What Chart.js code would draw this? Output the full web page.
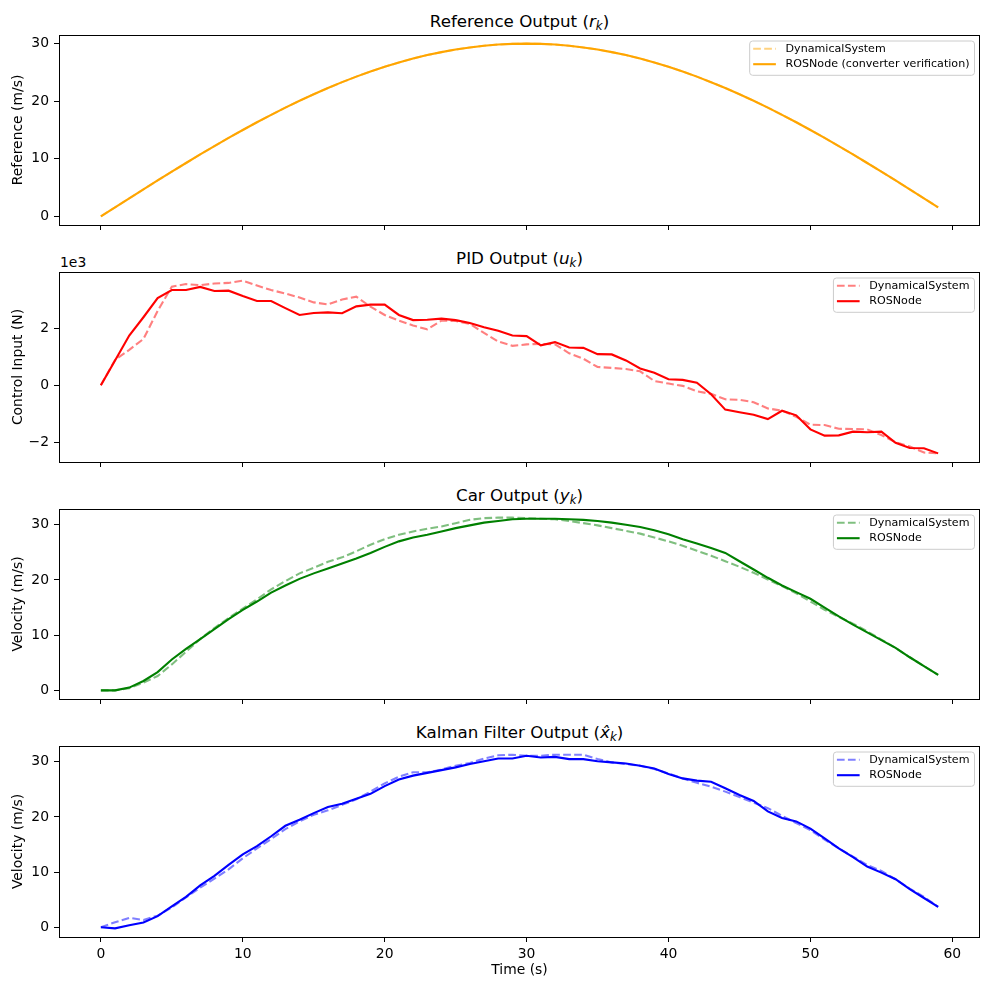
<!DOCTYPE html>
<html>
<head>
<meta charset="utf-8">
<title>Converter verification</title>
<script src="https://cdn.jsdelivr.net/npm/chart.js@4.4.0/dist/chart.umd.min.js"></script>
<style>
  body { margin: 0; background: #fff; width: 989px; height: 990px; position: relative; overflow: hidden; font-family: "DejaVu Sans", sans-serif; color: #000; }
  .panel { position: absolute; left: 0; width: 989px; }
  .title { position: absolute; left: 59px; width: 921px; text-align: center; font-size: 16.7px; line-height: 20px; white-space: nowrap; }
  .title sub { font-size: 70%; line-height: 0; vertical-align: -0.25em; }
  .offset { position: absolute; left: 60px; font-size: 13.9px; line-height: 16px; }
</style>
</head>
<body>

<div class="title" style="top:11px">Reference Output (<i>r<sub>k</sub></i>)</div>
<div class="panel" style="top:31px;height:204px"><canvas id="ref-chart"></canvas></div>

<div class="title" style="top:248px">PID Output (<i>u<sub>k</sub></i>)</div>
<div class="offset" style="top:254px">1e3</div>
<div class="panel" style="top:268px;height:204px"><canvas id="pid-chart"></canvas></div>

<div class="title" style="top:485px">Car Output (<i>y<sub>k</sub></i>)</div>
<div class="panel" style="top:505px;height:204px"><canvas id="car-chart"></canvas></div>

<div class="title" style="top:722px">Kalman Filter Output (<i>x&#770;<sub>k</sub></i>)</div>
<div class="panel" style="top:742px;height:245px"><canvas id="kf-chart"></canvas></div>

<script>
// time axis (s)
const timeSteps = [0, 1, 2, 3, 4, 5, 6, 7, 8, 9, 10, 11, 12, 13, 14, 15, 16, 17, 18, 19,
  20, 21, 22, 23, 24, 25, 26, 27, 28, 29, 30, 31, 32, 33, 34, 35, 36, 37, 38, 39,
  40, 41, 42, 43, 44, 45, 46, 47, 48, 49, 50, 51, 52, 53, 54, 55, 56, 57, 58, 59];

// reference r_k (m/s) - both runs give the same curve
const referenceOutput = [0, 1.57, 3.14, 4.69, 6.24, 7.76, 9.27, 10.75, 12.20, 13.62,
  15.00, 16.34, 17.63, 18.88, 20.07, 21.21, 22.29, 23.31, 24.27, 25.16,
  25.98, 26.73, 27.41, 28.01, 28.53, 28.98, 29.34, 29.63, 29.84, 29.96,
  30.00, 29.96, 29.84, 29.63, 29.34, 28.98, 28.53, 28.01, 27.41, 26.73,
  25.98, 25.16, 24.27, 23.31, 22.29, 21.21, 20.07, 18.88, 17.63, 16.34,
  15.00, 13.62, 12.20, 10.75, 9.27, 7.76, 6.24, 4.69, 3.14, 1.57];

// PID u_k (N)
const pidDynamical = [0, 890, 1240, 1620, 2600, 3450, 3540, 3500, 3560, 3580,
  3660, 3490, 3330, 3210, 3070, 2900, 2830, 3000, 3100, 2750,
  2460, 2260, 2090, 1960, 2260, 2250, 2150, 1830, 1530, 1380,
  1430, 1450, 1430, 1120, 930, 640, 610, 570, 490, 150,
  60, -20, -210, -300, -490, -510, -590, -810, -890, -1100,
  -1380, -1390, -1520, -1530, -1540, -1740, -1990, -2140, -2350, -2380];
const pidRos = [0, 870, 1740, 2380, 3050, 3330, 3330, 3440, 3300, 3310,
  3120, 2950, 2950, 2700, 2460, 2530, 2550, 2520, 2760, 2820,
  2820, 2460, 2280, 2290, 2330, 2280, 2180, 2030, 1910, 1740,
  1720, 1400, 1510, 1320, 1310, 1090, 1080, 870, 590, 440,
  210, 190, 90, -310, -850, -940, -1030, -1180, -890, -1050,
  -1540, -1760, -1750, -1620, -1640, -1620, -2010, -2190, -2200, -2380];

// car velocity y_k (m/s)
const carDynamical = [0, 0, 0.4, 1.4, 2.6, 4.7, 7.0, 9.3, 11.3, 13.1,
  14.8, 16.5, 18.3, 19.8, 21.2, 22.2, 23.3, 24.1, 25.2, 26.4,
  27.4, 28.2, 28.8, 29.3, 29.7, 30.3, 30.9, 31.2, 31.3, 31.3,
  31.2, 31.1, 31.0, 30.7, 30.3, 29.9, 29.4, 28.9, 28.4, 27.7,
  27.0, 26.2, 25.3, 24.4, 23.4, 22.4, 21.3, 20.1, 18.9, 17.6,
  16.1, 14.6, 13.3, 12.1, 10.7, 9.2, 7.7, 6.0, 4.4, 2.8];
const carRos = [0, 0, 0.5, 1.7, 3.3, 5.6, 7.5, 9.3, 11.1, 12.9,
  14.6, 16.1, 17.7, 19.0, 20.2, 21.2, 22.1, 23.0, 23.9, 24.9,
  26.0, 27.0, 27.7, 28.2, 28.8, 29.4, 29.9, 30.4, 30.7, 31.0,
  31.1, 31.1, 31.1, 31.0, 30.9, 30.7, 30.4, 30.0, 29.6, 29.0,
  28.3, 27.4, 26.6, 25.8, 24.9, 23.4, 21.9, 20.4, 19.0, 17.8,
  16.6, 15.0, 13.4, 11.9, 10.5, 9.1, 7.7, 6.0, 4.4, 2.8];

// kalman estimate x_hat_k (m/s)
const kfDynamical = [0, 0.9, 1.7, 1.3, 2.1, 3.6, 5.4, 7.2, 8.8, 10.5,
  12.5, 14.3, 16.0, 17.8, 19.2, 20.4, 21.2, 22.2, 23.2, 24.6,
  26.1, 27.3, 28.1, 28.1, 28.6, 29.3, 29.8, 30.6, 31.2, 31.3,
  31.1, 31.1, 31.3, 31.3, 31.3, 30.5, 29.9, 29.6, 29.3, 28.7,
  27.9, 27.0, 26.2, 25.5, 24.6, 23.6, 22.6, 21.6, 20.2, 18.9,
  17.6, 15.9, 14.3, 12.8, 11.3, 10.2, 8.7, 7.0, 5.5, 3.7];
const kfRos = [0, -0.2, 0.35, 0.85, 2.0, 3.8, 5.5, 7.6, 9.3, 11.3,
  13.2, 14.7, 16.5, 18.4, 19.5, 20.7, 21.8, 22.4, 23.3, 24.2,
  25.6, 26.8, 27.5, 28.0, 28.5, 29.0, 29.6, 30.1, 30.6, 30.6,
  31.1, 30.8, 30.9, 30.5, 30.5, 30.1, 29.9, 29.7, 29.3, 28.8,
  27.8, 27.0, 26.6, 26.4, 25.2, 24.0, 22.9, 21.0, 19.8, 19.2,
  17.9, 16.1, 14.3, 12.7, 11.0, 9.9, 8.7, 6.9, 5.3, 3.7];

// tick labels
const timeTicks = [0, 10, 20, 30, 40, 50, 60];
const velocityTicks = [0, 10, 20, 30];
const pidTicks = [-2000, 0, 2000];

Chart.defaults.font.family = "'DejaVu Sans', sans-serif";
Chart.defaults.color = "#000";

const FONT = 13.9;

// matplotlib-style 5% margins
function paddedRange(...series) {
  const all = series.flat();
  const lo = Math.min(...all), hi = Math.max(...all);
  const m = (hi - lo) * 0.05;
  return [lo - m, hi + m];
}

const toPoints = values => values.map((v, i) => ({ x: timeSteps[i], y: v }));

// full box around the axes + legend drawn inside upper right, like pyplot
const axesDecor = {
  id: "axesDecor",
  afterDraw(chart) {
    const { ctx, chartArea: a } = chart;
    ctx.save();
    ctx.strokeStyle = "#000";
    ctx.lineWidth = 1;
    ctx.strokeRect(Math.round(a.left) + 0.5, Math.round(a.top) + 0.5,
      Math.round(a.right - a.left) - 1, Math.round(a.bottom - a.top));

    const sets = chart.data.datasets;
    ctx.font = "11.1px 'DejaVu Sans', sans-serif";
    const textW = Math.max(...sets.map(d => ctx.measureText(d.label).width));
    const w = 4 + 22.7 + 9.7 + textW + 4.5;
    const h = 8.3 + 15.4 * (sets.length - 1) + 10.6;
    const x = a.right - 6 - w;
    const y = a.top + 5.5;

    ctx.beginPath();
    ctx.roundRect(x + 0.5, y + 0.5, w, h, 3);
    ctx.fillStyle = "rgba(255,255,255,0.8)";
    ctx.fill();
    ctx.strokeStyle = "#cccccc";
    ctx.stroke();

    sets.forEach((d, i) => {
      const cy = y + 8.3 + i * 15.4;
      ctx.beginPath();
      ctx.setLineDash(d.borderDash || []);
      ctx.strokeStyle = d.borderColor;
      ctx.lineWidth = d.borderWidth;
      ctx.moveTo(x + 4, cy);
      ctx.lineTo(x + 4 + 22.7, cy);
      ctx.stroke();
      ctx.setLineDash([]);
      ctx.fillStyle = "#000";
      ctx.textBaseline = "middle";
      ctx.fillText(d.label, x + 4 + 22.7 + 9.7, cy);
    });
    ctx.restore();
  }
};

const [tMin, tMax] = paddedRange(timeSteps);

function makePanel(canvasId, cfg) {
  const [yMin, yMax] = paddedRange(cfg.dyn, cfg.ros);
  const tickGrid = { display: true, drawOnChartArea: false, drawTicks: true, tickLength: 5, tickColor: "#000", tickWidth: 1 };

  new Chart(document.getElementById(canvasId), {
    type: "line",
    data: {
      datasets: [
        {
          label: "DynamicalSystem",
          data: toPoints(cfg.dyn),
          borderColor: cfg.faded,
          borderDash: [7.7, 3.3],
          borderWidth: 2.1,
          pointRadius: 0,
          tension: 0,
          fill: false,
          order: 1
        },
        {
          label: cfg.rosLabel || "ROSNode",
          data: toPoints(cfg.ros),
          borderColor: cfg.color,
          borderWidth: 2.1,
          pointRadius: 0,
          tension: 0,
          fill: false,
          order: 0
        }
      ]
    },
    options: {
      responsive: true,
      maintainAspectRatio: false,
      animation: false,
      layout: { padding: { top: 4, right: 9, left: 0, bottom: 0 } },
      plugins: { legend: { display: false }, tooltip: { enabled: false } },
      scales: {
        x: {
          type: "linear",
          min: tMin,
          max: tMax,
          afterBuildTicks: s => { s.ticks = timeTicks.map(v => ({ value: v })); },
          afterFit: s => {
            s.height = cfg.showTime ? 50 : 10;
            s.paddingLeft = 0;
            s.paddingRight = 0;
          },
          grid: tickGrid,
          border: { display: false },
          ticks: { display: !!cfg.showTime, color: "#000", font: { size: FONT }, padding: 4, maxRotation: 0, autoSkip: false },
          title: { display: !!cfg.showTime, text: "Time (s)", color: "#000", font: { size: FONT }, padding: { top: 0, bottom: 8 } }
        },
        y: {
          type: "linear",
          min: yMin,
          max: yMax,
          afterBuildTicks: s => { s.ticks = cfg.yTicks.map(v => ({ value: v })); },
          afterFit: s => {
            s.width = 59;
            s.paddingTop = 0;
            s.paddingBottom = 0;
          },
          grid: tickGrid,
          border: { display: false },
          ticks: {
            color: "#000",
            font: { size: FONT },
            padding: 5,
            autoSkip: false,
            callback: cfg.tickFormat || (v => String(v))
          },
          title: { display: true, text: cfg.yLabel, color: "#000", font: { size: FONT }, padding: { top: 10, bottom: 0 } }
        }
      }
    },
    plugins: [axesDecor]
  });
}

makePanel("ref-chart", {
  dyn: referenceOutput, ros: referenceOutput,
  color: "#ffa500", faded: "rgba(255,165,0,0.5)",
  rosLabel: "ROSNode (converter verification)",
  yLabel: "Reference (m/s)", yTicks: velocityTicks
});

makePanel("pid-chart", {
  dyn: pidDynamical, ros: pidRos,
  color: "#ff0000", faded: "rgba(255,0,0,0.5)",
  yLabel: "Control Input (N)", yTicks: pidTicks,
  tickFormat: v => (v < 0 ? "\u2212" : "") + Math.abs(v / 1000)
});

makePanel("car-chart", {
  dyn: carDynamical, ros: carRos,
  color: "#008000", faded: "rgba(0,128,0,0.5)",
  yLabel: "Velocity (m/s)", yTicks: velocityTicks
});

makePanel("kf-chart", {
  dyn: kfDynamical, ros: kfRos,
  color: "#0000ff", faded: "rgba(0,0,255,0.5)",
  yLabel: "Velocity (m/s)", yTicks: velocityTicks,
  showTime: true
});
</script>
</body>
</html>
